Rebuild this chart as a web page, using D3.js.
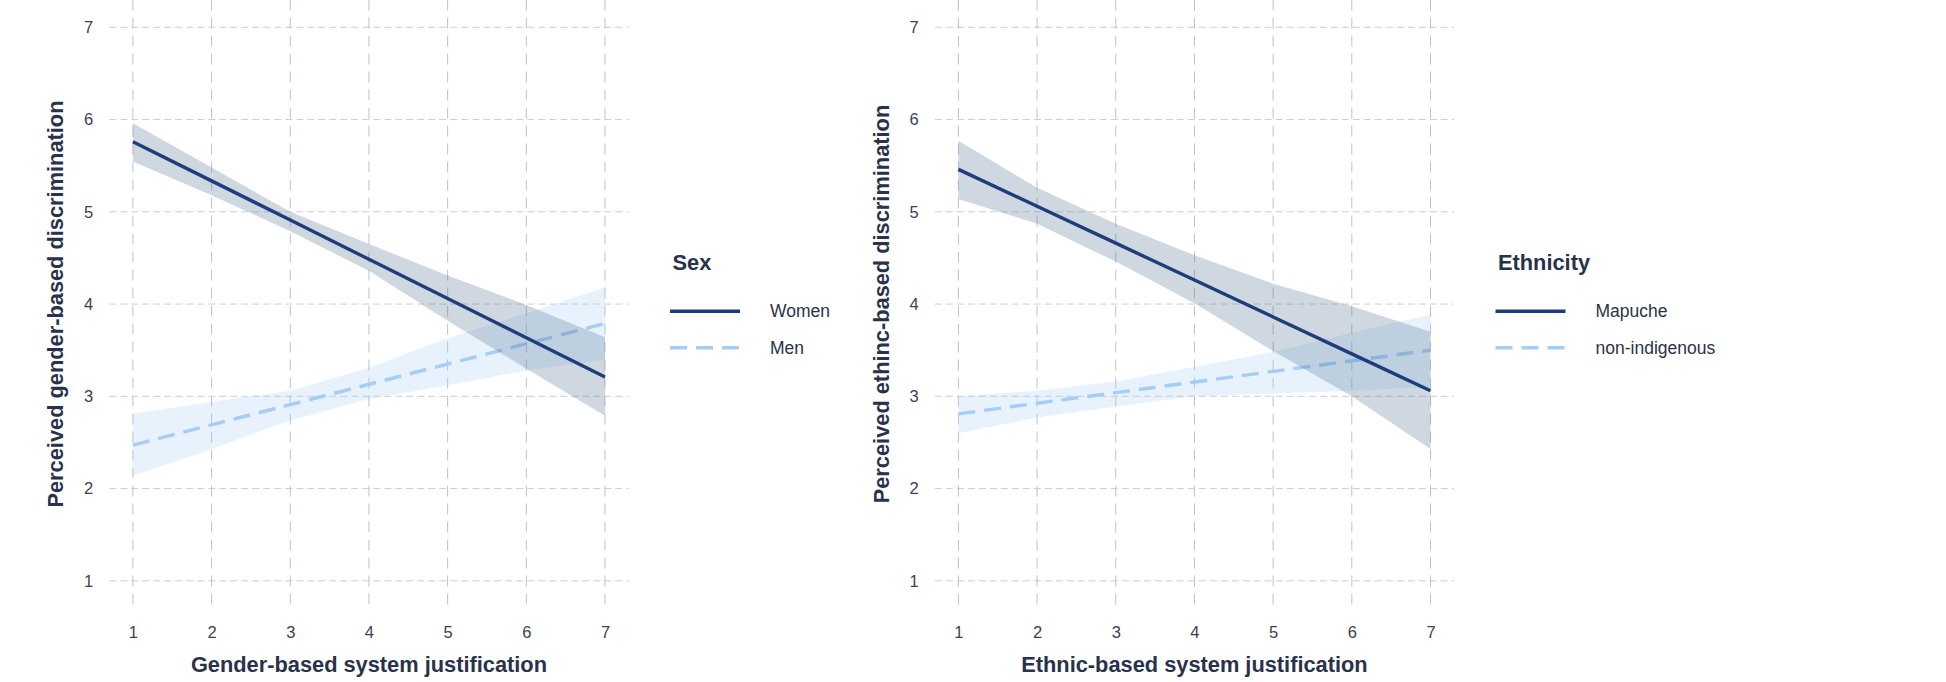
<!DOCTYPE html>
<html>
<head>
<meta charset="utf-8">
<script src="https://cdn.jsdelivr.net/npm/d3@7"></script>
<style>
  body { margin: 0; background: #fff; }
  svg { display: block; font-family: "Liberation Sans", Arial, sans-serif; }
</style>
</head>
<body>
<div id="chart"></div>
<script>
// x positions the predictions were drawn at
const xValues = [1, 2, 3, 4, 5, 6, 7];
const tickValues = [1, 2, 3, 4, 5, 6, 7];

// Panel 1: gender
const womenFit = [5.76, 5.335, 4.91, 4.485, 4.06, 3.635, 3.21];
const womenLower = [5.545, 5.18, 4.79, 4.36, 3.82, 3.30, 2.79];
const womenUpper = [5.96, 5.48, 5.00, 4.65, 4.31, 3.99, 3.64];
const menFit = [2.47, 2.69, 2.91, 3.13, 3.35, 3.57, 3.79];
const menLower = [2.14, 2.43, 2.74, 2.97, 3.12, 3.28, 3.40];
const menUpper = [2.81, 2.94, 3.06, 3.31, 3.63, 3.90, 4.18];

// Panel 2: ethnicity
const mapucheFit = [5.46, 5.06, 4.66, 4.26, 3.86, 3.46, 3.06];
const mapucheLower = [5.14, 4.87, 4.46, 4.01, 3.49, 3.00, 2.43];
const mapucheUpper = [5.77, 5.26, 4.87, 4.53, 4.22, 3.975, 3.70];
const nonIndFit = [2.81, 2.925, 3.04, 3.155, 3.27, 3.385, 3.50];
const nonIndLower = [2.60, 2.77, 2.89, 3.00, 3.03, 3.06, 3.10];
const nonIndUpper = [3.00, 3.06, 3.16, 3.32, 3.48, 3.69, 3.885];

const panels = [
  {
    offset: 0,
    xTitle: "Gender-based system justification",
    yTitle: "Perceived gender-based discrimination",
    legendTitle: "Sex",
    groups: [
      { name: "Women", fit: womenFit, lower: womenLower, upper: womenUpper },
      { name: "Men", fit: menFit, lower: menLower, upper: menUpper }
    ]
  },
  {
    offset: 825.5,
    xTitle: "Ethnic-based system justification",
    yTitle: "Perceived ethinc-based discrimination",
    legendTitle: "Ethnicity",
    groups: [
      { name: "Mapuche", fit: mapucheFit, lower: mapucheLower, upper: mapucheUpper },
      { name: "non-indigenous", fit: nonIndFit, lower: nonIndLower, upper: nonIndUpper }
    ]
  }
];

const WIDTH = 1946, HEIGHT = 682;
const PANEL = { LEFT: 109.3, RIGHT: 628.6, TOP: -0.4, BOTTOM: 608.5 };

// two styles: first group solid dark, second dashed light
const styles = [
  { line: "#1e3d7a", dash: null, fill: "#5b7a99", fillOpacity: 0.29 },
  { line: "#a5cdf6", dash: "17,9", fill: "#a5cdf7", fillOpacity: 0.25 }
];

const svg = d3.select("#chart")
  .append("svg")
  .attr("width", WIDTH)
  .attr("height", HEIGHT);

const x = d3.scaleLinear().domain([0.7, 7.3]).range([PANEL.LEFT, PANEL.RIGHT]);
const y = d3.scaleLinear().domain([0.7, 7.3]).range([PANEL.BOTTOM, PANEL.TOP]);

panels.forEach((p) => {
  const g = svg.append("g").attr("transform", `translate(${p.offset}, 0)`);

  // Grid
  g.append("g").selectAll("line")
    .data(tickValues)
    .enter().append("line")
    .attr("x1", PANEL.LEFT).attr("x2", PANEL.RIGHT)
    .attr("y1", (d) => y(d)).attr("y2", (d) => y(d))
    .attr("stroke", "#cbced3")
    .attr("stroke-width", 1)
    .attr("stroke-dasharray", "7,4");

  g.append("g").selectAll("line")
    .data(tickValues)
    .enter().append("line")
    .attr("x1", (d) => x(d)).attr("x2", (d) => x(d))
    .attr("y1", PANEL.TOP).attr("y2", PANEL.BOTTOM)
    .attr("stroke", "#bdc1c7")
    .attr("stroke-width", 1)
    .attr("stroke-dasharray", "11,7");

  const area = (grp) => d3.area()
    .x((d, i) => x(xValues[i]))
    .y0((d, i) => y(grp.lower[i]))
    .y1((d, i) => y(grp.upper[i]))(xValues);

  const line = (grp) => d3.line()
    .x((d, i) => x(xValues[i]))
    .y((d, i) => y(grp.fit[i]))(xValues);

  // second group below, first group on top
  [1, 0].forEach((k) => {
    const grp = p.groups[k];
    const s = styles[k];
    g.append("path")
      .attr("d", area(grp))
      .attr("fill", s.fill)
      .attr("fill-opacity", s.fillOpacity);
    g.append("path")
      .attr("d", line(grp))
      .attr("fill", "none")
      .attr("stroke", s.line)
      .attr("stroke-width", 3.4)
      .attr("stroke-dasharray", s.dash);
  });

  // Axes
  const xAxis = g.append("g")
    .attr("transform", `translate(0, ${PANEL.BOTTOM})`)
    .call(d3.axisBottom(x).tickValues(tickValues).tickSize(0).tickPadding(18).tickFormat(d3.format("d")));
  const yAxis = g.append("g")
    .attr("transform", `translate(${PANEL.LEFT}, 0)`)
    .call(d3.axisLeft(y).tickValues(tickValues).tickSize(0).tickPadding(16).tickFormat(d3.format("d")));
  [xAxis, yAxis].forEach((a) => {
    a.select(".domain").remove();
    a.selectAll("text")
      .attr("font-size", "16.5px")
      .attr("font-family", "'Liberation Sans', Arial, sans-serif")
      .attr("fill", "#3a4252");
  });

  // X label
  g.append("text")
    .attr("x", (PANEL.LEFT + PANEL.RIGHT) / 2)
    .attr("y", 671.5)
    .attr("font-size", "21.8px")
    .attr("font-weight", "bold")
    .attr("text-anchor", "middle")
    .attr("fill", "#28324a")
    .text(p.xTitle);

  // Y label
  g.append("text")
    .attr("x", -(PANEL.TOP + PANEL.BOTTOM) / 2)
    .attr("y", 63)
    .attr("font-size", "21.8px")
    .attr("font-weight", "bold")
    .attr("text-anchor", "middle")
    .attr("transform", "rotate(-90)")
    .attr("fill", "#28324a")
    .text(p.yTitle);

  // Legend
  const lg = g.append("g");
  lg.append("text")
    .attr("x", 672.5)
    .attr("y", 270)
    .attr("font-size", "21.8px")
    .attr("font-weight", "bold")
    .attr("fill", "#28324a")
    .text(p.legendTitle);

  const keyY = [311.3, 347.7];
  p.groups.forEach((grp, k) => {
    lg.append("line")
      .attr("x1", 670).attr("x2", 740)
      .attr("y1", keyY[k]).attr("y2", keyY[k])
      .attr("stroke", styles[k].line)
      .attr("stroke-width", 3.4)
      .attr("stroke-dasharray", styles[k].dash);
    lg.append("text")
      .attr("x", 770)
      .attr("y", keyY[k])
      .attr("dy", "0.35em")
      .attr("font-size", "17.5px")
      .attr("fill", "#2b3344")
      .text(grp.name);
  });
});
</script>
</body>
</html>
